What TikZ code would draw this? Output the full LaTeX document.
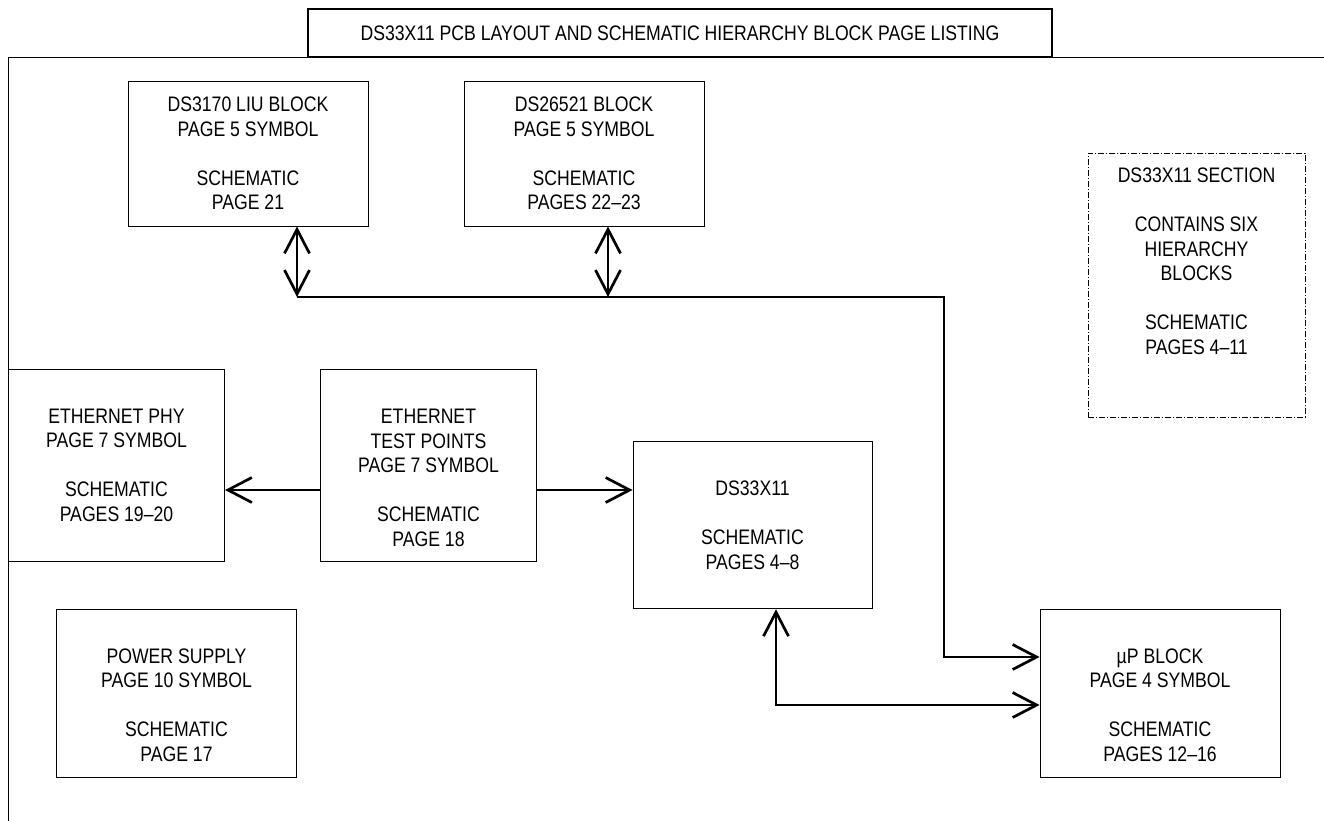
\documentclass[tikz,border=0pt]{standalone}
\usepackage{fontspec}
\setmainfont[FakeStretch=0.84]{Liberation Sans}
\usetikzlibrary{arrows.meta,calc}
\begin{document}
\begin{tikzpicture}[x=1pt,y=-1pt,
  blk/.style={draw,line width=0.9pt,inner sep=0pt},
  lbl/.style={align=center,inner sep=0pt,font=\fontsize{21}{24.5}\selectfont},
  conn/.style={line width=2.7pt,line cap=butt,line join=miter},
  arr/.style={conn,-{Straight Barb[length=24pt,width=25pt]}},
  darr/.style={conn,{Straight Barb[length=24pt,width=25pt]}-{Straight Barb[length=24pt,width=25pt]}},
  sectbox/.style={draw,line width=0.7pt,dash pattern=on 6pt off 2pt on 1pt off 2pt,inner sep=0pt}]
\useasboundingbox (0,0) rectangle (1324,820);
\fill[white] (0,0) rectangle (1324,820);
% frame
\draw[line width=1.8pt] (8.5,822) -- (8.5,57.5) -- (1326,57.5);
% title
\node[draw,line width=1.6pt,minimum width=744pt,minimum height=48pt,inner sep=0pt] (title) at (680,33) {};
\node[lbl] (titlet) at (title.center) {DS33X11 PCB LAYOUT AND SCHEMATIC HIERARCHY BLOCK PAGE LISTING};
% boxes
\node[blk,minimum width=240pt,minimum height=145pt] (liu) at (248,153.5) {};
\node[lbl] (liut) at (liu.center) {DS3170 LIU BLOCK\\PAGE 5 SYMBOL\\[24.5pt]SCHEMATIC\\PAGE 21};
\node[blk,minimum width=240pt,minimum height=145pt] (dsb) at (584,153.5) {};
\node[lbl] (dsbt) at (dsb.center) {DS26521 BLOCK\\PAGE 5 SYMBOL\\[24.5pt]SCHEMATIC\\PAGES 22–23};
\node[blk,minimum width=216pt,minimum height=192pt] (phy) at (116.5,465) {};
\node[lbl] (phyt) at (phy.center) {ETHERNET PHY\\PAGE 7 SYMBOL\\[24.5pt]SCHEMATIC\\PAGES 19–20};
\node[blk,minimum width=216pt,minimum height=192pt] (tp) at (428.5,465) {};
\node[lbl] (tpt) at ([yshift=-13pt]tp.center) {ETHERNET\\TEST POINTS\\PAGE 7 SYMBOL\\[24.5pt]SCHEMATIC\\PAGE 18};
\node[blk,minimum width=239pt,minimum height=167pt] (ds) at (752.5,525.3) {};
\node[lbl] (dst) at (ds.center) {DS33X11\\[24.5pt]SCHEMATIC\\PAGES 4–8};
\node[blk,minimum width=240pt,minimum height=168pt] (pwr) at (176.5,693) {};
\node[lbl] (pwrt) at ([yshift=-12pt]pwr.center) {POWER SUPPLY\\PAGE 10 SYMBOL\\[24.5pt]SCHEMATIC\\PAGE 17};
\node[blk,minimum width=240pt,minimum height=168pt] (up) at (1160,693) {};
\node[lbl] (upt) at ([yshift=-12pt]up.center) {µP BLOCK\\PAGE 4 SYMBOL\\[24.5pt]SCHEMATIC\\PAGES 12–16};
\node[sectbox,minimum width=217pt,minimum height=264pt] (sect) at (1196.5,285) {};
\node[lbl] (sectt) at ([yshift=23.5pt]sect.center) {DS33X11 SECTION\\[24.5pt]CONTAINS SIX\\HIERARCHY\\BLOCKS\\[24.5pt]SCHEMATIC\\PAGES 4–11};
% bus
\coordinate (b1) at (297,297);
\coordinate (b2) at (608,297);
\coordinate (b3) at (944,297);
\draw[darr] (liu.south -| b1) -- (b1);
\draw[darr] (dsb.south -| b2) -- (b2);
\draw[arr] (b1) -- (b3) |- ([yshift=36pt]up.west);
\draw[darr] ([xshift=23.5pt]ds.south) |- ([yshift=-12pt]up.west);
\draw[arr] ([yshift=-25pt]tp.west) -- ([yshift=-25pt]tp.west -| phy.east);
\draw[arr] ([yshift=-25pt]tp.east) -- ([yshift=-25pt]tp.east -| ds.west);
\end{tikzpicture}
\end{document}
